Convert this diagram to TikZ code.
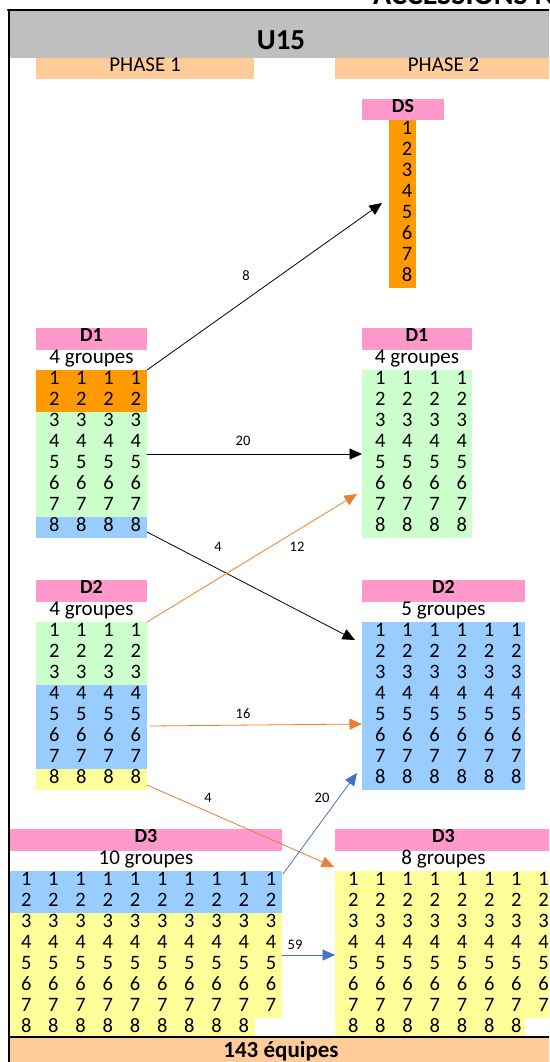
\documentclass[tikz,border=0pt]{standalone}
\usepackage{fontspec}
\setmainfont{Carlito}
\usepackage{tikz}
\usetikzlibrary{arrows.meta}
\definecolor{gris}{HTML}{BFBFBF}
\definecolor{peche}{HTML}{FFCC99}
\definecolor{rose}{HTML}{FF99CC}
\definecolor{orangeds}{HTML}{FF9900}
\definecolor{vert}{HTML}{CCFFCC}
\definecolor{bleu}{HTML}{99CCFF}
\definecolor{jaune}{HTML}{FFFF99}
\definecolor{orangef}{HTML}{ED7D31}
\definecolor{bleuf}{HTML}{4472C4}
\tikzset{
  bloc/.style={inner sep=0pt,outer sep=0pt,anchor=north west},
  bande/.style={inner sep=0pt,outer sep=0pt,anchor=north},
  entete/.style={bande,fill=rose,text height=13.5pt,text depth=8pt,font=\bfseries\fontsize{20}{23}\selectfont},
  num/.style={inner sep=0pt,anchor=base,font=\fontsize{20.5}{24}\selectfont},
  groupes/.style={inner sep=0pt,anchor=base,font=\fontsize{21}{25}\selectfont},
  nb/.style={inner sep=0pt,font=\fontsize{14.5}{17}\selectfont},
  fleche/.style={->,line width=0.8pt},
  cadre/.style={line width=2.2pt}
}
\begin{document}
\begin{tikzpicture}[line cap=round,line join=round,>={Triangle[length=12.5pt,width=11pt]},x=1pt,y=-1pt]
\clip(0,0) rectangle (549,1062);
% titre
\node[anchor=base west,inner sep=0pt,font=\bfseries\fontsize{30}{36}\selectfont] (acc) at (373,5) {ACCESSIONS N};
\node[bande,fill=gris,minimum width=542pt,text height=38.3pt,text depth=8.7pt,font=\bfseries\fontsize{29}{34}\selectfont] (u15) at (281,11) {U15};
\node[bande,fill=peche,minimum width=218pt,text height=14pt,text depth=7pt,font=\fontsize{21}{25}\selectfont] (ph1) at (145,58) {PHASE 1};
\node[bande,fill=peche,minimum width=217pt,text height=14pt,text depth=7pt,font=\fontsize{21}{25}\selectfont] (ph2) at (443.5,58) {PHASE 2};
% en-tetes
\node[entete,minimum width=82pt] (ds-t) at (403,99) {DS};
\node[entete,minimum width=111pt] (d1a-t) at (91.5,328) {D1};
\node[entete,minimum width=110pt] (d1b-t) at (417,328) {D1};
\node[entete,minimum width=111pt] (d2a-t) at (91.5,580) {D2};
\node[entete,minimum width=163pt] (d2b-t) at (443.5,580) {D2};
\node[entete,minimum width=272pt] (d3a-t) at (146,829) {D3};
\node[entete,minimum width=217pt] (d3b-t) at (443.5,829) {D3};
\node[groupes] (d1a-g) at (91.5,363) {4 groupes};
\node[groupes] (d1b-g) at (417,363) {4 groupes};
\node[groupes] (d2a-g) at (91.5,615) {4 groupes};
\node[groupes] (d2b-g) at (443.5,615) {5 groupes};
\node[groupes] (d3a-g) at (146,864) {10 groupes};
\node[groupes] (d3b-g) at (443.5,864) {8 groupes};
% blocs
\node[bloc,fill=orangeds,minimum width=27pt,minimum height=168pt] (ds) at (389,120) {};
\node[bloc,minimum width=111pt,minimum height=168pt] (d1a) at (36,370) {};
\node[bloc,fill=vert,minimum width=110pt,minimum height=168pt] (d1b) at (362,370) {};
\node[bloc,minimum width=111pt,minimum height=168pt] (d2a) at (36,622) {};
\node[bloc,fill=bleu,minimum width=163pt,minimum height=168pt] (d2b) at (362,622) {};
\node[bloc,minimum width=272pt,minimum height=168pt] (d3a) at (10,871) {};
\node[bloc,minimum width=217pt,minimum height=168pt] (d3b) at (335,871) {};
\fill[orangeds] (36,370) rectangle (147,412);
\fill[vert] (36,412) rectangle (147,517);
\fill[bleu] (36,517) rectangle (147,538);
\fill[vert] (36,622) rectangle (147,685);
\fill[bleu] (36,685) rectangle (147,769);
\fill[jaune] (36,769) rectangle (147,790);
\fill[bleu] (10,871) rectangle (282,913);
\fill[jaune] (10,913) rectangle (282,1018);
\fill[jaune] (10,1018) rectangle (255,1039);
\fill[jaune] (335,871) rectangle (552,1018);
\fill[jaune] (335,1018) rectangle (525.4,1039);
% numeros
\foreach \r in {1,...,8} \node[num] (ds-\r) at (407,{120+21*\r-6.5}) {\r};
\foreach \g/\x/\y/\k/\m in {d1a/36/370/4/4,d1b/362/370/4/4,d2a/36/622/4/4,d2b/362/622/6/6,d3a/8/871/10/9,d3b/335/871/8/7}{
  \foreach \r in {1,...,7} \foreach \c in {1,...,\k} \node[num] (\g-\r-\c) at ({\x+27.2*\c-9},{\y+21*\r-6.5}) {\r};
  \foreach \c in {1,...,\m} \node[num] (\g-8-\c) at ({\x+27.2*\c-9},{\y+168-6.5}) {8};
}
% total
\node[bande,fill=peche,minimum width=542pt,text height=19pt,text depth=7pt,font=\bfseries\fontsize{23}{27}\selectfont] (total) at (281,1038) {143 équipes};
\draw[cadre] (8,10) -- (549,10);
\draw[cadre] (9,10) -- (9,1062);
\draw[cadre] (9,1037) -- (549,1037);
% fleches
\coordinate (ds-in) at ([xshift=-7pt,yshift=1pt]ds.west);
\coordinate (d1a-out) at ([yshift=6pt]d1a.south east);
\coordinate (d2b-in) at ([xshift=-7pt,yshift=-18pt]d2b.north west);
\coordinate (d1b-in) at ([xshift=-5pt,yshift=44pt]d1b.south west);
\coordinate (d2a-out) at ([xshift=3pt,yshift=-20pt]d2a.east);
\coordinate (d2b-mid) at ([yshift=-18pt]d2b.west);
\coordinate (d2a-bas) at ([yshift=5pt]d2a.south east);
\coordinate (d3b-in) at ([xshift=-1pt,yshift=4pt]d3b.north west);
\coordinate (d3a-out) at ([xshift=1pt,yshift=-3pt]d3a.north east);
\coordinate (d2b-bas) at ([xshift=-5pt,yshift=17pt]d2b.south west);
\draw[fleche] (d1a.north east) -- (ds-in);
\draw[fleche] (d1a.east) -- (d1b.west);
\draw[fleche] (d1a-out) -- (d2b-in);
\draw[fleche,orangef] (d2a.north east) -- (d1b-in);
\draw[fleche,orangef] (d2a-out) -- (d2b-mid);
\draw[fleche,orangef] (d2a-bas) -- (d3b-in);
\draw[fleche,bleuf] (d3a-out) -- (d2b-bas);
\draw[fleche,bleuf] (d3a.east) -- (d3b.west);
\node[nb] (n8) at (246,276) {8};
\node[nb] (n20a) at (243,441) {20};
\node[nb] (n4a) at (218,547) {4};
\node[nb] (n12) at (297,547) {12};
\node[nb] (n16) at (243,714) {16};
\node[nb] (n4b) at (208,798) {4};
\node[nb] (n20b) at (322,798) {20};
\node[nb] (n59) at (295,945) {59};
\end{tikzpicture}
\end{document}
